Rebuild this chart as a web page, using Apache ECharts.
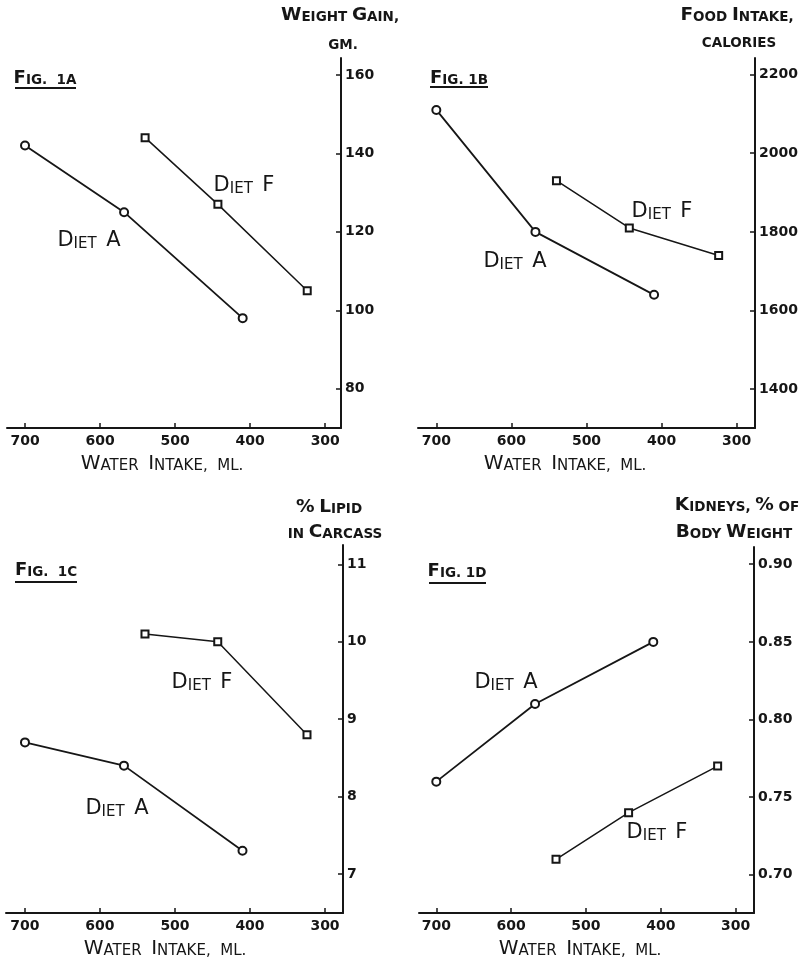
<!DOCTYPE html>
<html><head><meta charset="utf-8">
<script src="https://cdn.jsdelivr.net/npm/echarts@6/dist/echarts.min.js"></script>
<style>html,body{margin:0;padding:0;background:#fff}#c{width:806px;height:962px}</style>
</head><body><div id="c"></div>
<script>
// ---- data ----
const waterTicks = [700, 600, 500, 400, 300];
const waterA = [700, 568, 410];
const waterF = [540, 443, 324];
const gainA = [142, 125, 98];
const gainF = [144, 127, 105];
const foodA = [2110, 1800, 1640];
const foodF = [1930, 1810, 1740];
const lipidA = [8.7, 8.4, 7.3];
const lipidF = [10.1, 10.0, 8.8];
const kidneyA = [0.76, 0.81, 0.85];
const kidneyF = [0.71, 0.74, 0.77];
const gainTicks = [80, 100, 120, 140, 160];
const foodTicks = [1400, 1600, 1800, 2000, 2200];
const lipidTicks = [7, 8, 9, 10, 11];
const kidneyTicks = [0.70, 0.75, 0.80, 0.85, 0.90];
const figLabels = ['Fig.  1a', 'Fig. 1b', 'Fig.  1c', 'Fig. 1d'];
const yNames = [['Weight Gain,', 'gm.'], ['Food Intake,', 'calories'], ['% Lipid', 'in Carcass'], ['Kidneys, % of', 'Body Weight']];
const xName = 'Water  Intake,  ml.';
const dietNames = ['Diet  A', 'Diet  F'];

// ---- layout ----
const ink = '#161616';
const FONT = 'DejaVu Sans';
const panels = [
  {grid:{left:7, top:58, width:334, height:370}, x:[279,724], y:[70,164.3], yTicks:gainTicks, a:gainA, f:gainF, fmt:v=>String(v),
   fig:[45,78,15,76,88], yn:[[340,15],[343,45]], xn:[162,464], dA:[89,241], dF:[244,186]},
  {grid:{left:418, top:58, width:337, height:370}, x:[275.6,724.4], y:[1301.5,2242], yTicks:foodTicks, a:foodA, f:foodF, fmt:v=>String(v),
   fig:[459,78,430,488,87], yn:[[737,15],[739,43]], xn:[565,464], dA:[515,262], dF:[662,212]},
  {grid:{left:6, top:545, width:337, height:368}, x:[276,725.3], y:[6.497,11.249], yTicks:lipidTicks, a:lipidA, f:lipidF, fmt:v=>String(v),
   fig:[46,570,15,77,582], yn:[[329,507],[335,532]], xn:[165,949], dA:[117,809], dF:[202,683]},
  {grid:{left:419, top:547, width:335, height:366}, x:[275.4,723.1], y:[0.6754,0.9111], yTicks:kidneyTicks, a:kidneyA, f:kidneyF, fmt:v=>v.toFixed(2),
   fig:[457,571,429,486,583], yn:[[737,505],[734,532]], xn:[580,949], dA:[506,683], dF:[657,833]}
];

function smallCaps(str) {
  let out = '', cur = null, buf = '';
  const flush = () => { if (buf) out += '{' + cur + '|' + buf + '}'; buf = ''; };
  for (const ch of str) {
    const st = (ch >= 'A' && ch <= 'Z') || ch === '%' ? 'b' : 's';
    if (st !== cur) { flush(); cur = st; }
    buf += ch.toUpperCase();
  }
  flush();
  return out;
}
function gtext(str, x, y, big, small, weight) {
  return {
    type: 'text', x: x, y: y, silent: true,
    style: {
      text: smallCaps(str), align: 'center', verticalAlign: 'middle', fill: ink,
      rich: {
        b: {fontSize: big, fontFamily: FONT, fontWeight: weight || 'normal', fill: ink, verticalAlign: 'bottom'},
        s: {fontSize: small, fontFamily: FONT, fontWeight: weight || 'normal', fill: ink, verticalAlign: 'bottom'}
      }
    }
  };
}

const graphics = [];
panels.forEach((p, i) => {
  graphics.push(gtext(figLabels[i], p.fig[0], p.fig[1], 18, 13.5, 'bold'));
  graphics.push({type:'line', silent:true, shape:{x1:p.fig[2], y1:p.fig[4], x2:p.fig[3], y2:p.fig[4]}, style:{stroke:ink, lineWidth:2}});
  graphics.push(gtext(yNames[i][0], p.yn[0][0], p.yn[0][1], 18.5, 13.5, 'bold'));
  graphics.push(gtext(yNames[i][1], p.yn[1][0], p.yn[1][1], 18.5, 13.5, 'bold'));
  graphics.push(gtext(xName, p.xn[0], p.xn[1], 20, 15, 'normal'));
  graphics.push(gtext(dietNames[0], p.dA[0], p.dA[1], 21, 15, 'normal'));
  graphics.push(gtext(dietNames[1], p.dF[0], p.dF[1], 21, 15, 'normal'));
});

const option = {
  animation: false,
  backgroundColor: '#fff',
  grid: panels.map(p => Object.assign({containLabel: false}, p.grid)),
  xAxis: panels.map((p, i) => ({
    type: 'value', gridIndex: i, min: p.x[0], max: p.x[1], inverse: true, position: 'bottom',
    axisLine: {show: true, onZero: false, lineStyle: {color: ink, width: 2}},
    axisTick: {show: true, inside: true, length: 5, customValues: waterTicks, lineStyle: {color: ink, width: 1.5}},
    axisLabel: {customValues: waterTicks, margin: 6, color: ink, fontFamily: FONT, fontWeight: 'bold', fontSize: 14},
    splitLine: {show: false}
  })),
  yAxis: panels.map((p, i) => ({
    type: 'value', gridIndex: i, min: p.y[0], max: p.y[1], position: 'right',
    axisLine: {show: true, onZero: false, lineStyle: {color: ink, width: 2}},
    axisTick: {show: true, inside: true, length: 5, customValues: p.yTicks, lineStyle: {color: ink, width: 1.5}},
    axisLabel: {customValues: p.yTicks, margin: 4, color: ink, fontFamily: FONT, fontWeight: 'bold', fontSize: 14, formatter: p.fmt},
    splitLine: {show: false}
  })),
  series: panels.flatMap((p, i) => [
    {type: 'line', xAxisIndex: i, yAxisIndex: i, data: waterA.map((w, k) => [w, p.a[k]]),
     symbol: 'circle', symbolSize: 8, showAllSymbol: true,
     itemStyle: {color: '#fff', borderColor: ink, borderWidth: 2},
     lineStyle: {color: ink, width: 1.8}},
    {type: 'line', xAxisIndex: i, yAxisIndex: i, data: waterF.map((w, k) => [w, p.f[k]]),
     symbol: 'rect', symbolSize: 7, showAllSymbol: true,
     itemStyle: {color: '#fff', borderColor: ink, borderWidth: 2},
     lineStyle: {color: ink, width: 1.5}}
  ]),
  graphic: graphics
};
const chart = echarts.init(document.getElementById('c'));
chart.setOption(option);
</script>
</body></html>
